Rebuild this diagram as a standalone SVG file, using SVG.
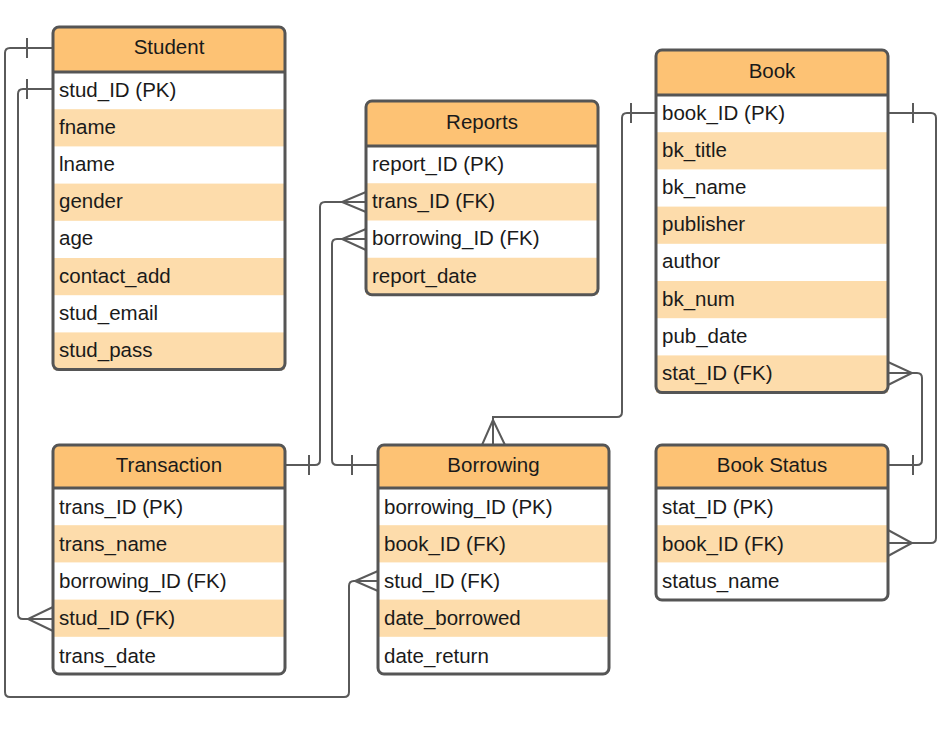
<svg xmlns="http://www.w3.org/2000/svg" width="941" height="735" viewBox="0 0 941 735">
<style>
.t{font-family:"Liberation Sans",Arial,sans-serif;font-size:20.5px;fill:#1a1a1a}
.h{text-anchor:middle}
.hd{fill:#FDC274}
.alt{fill:#FDDCAB}
.box{fill:none;stroke:#555;stroke-width:3}
.sep{stroke:#555;stroke-width:3}
.c{fill:none;stroke:#5a5a5a;stroke-width:2}
</style>
<rect width="941" height="735" fill="#fff"/>
<g id="connectors" class="c">
<path d="M53,48 H10 Q5,48 5,53 V692 Q5,697 10,697 H344 Q349,697 349,692 V586 Q349,581 354,581 H378"/>
<path d="M378,571 L355,581 L378,591"/>
<path d="M27,38 V58"/>
<path d="M53,89 H23 Q18,89 18,94 V614 Q18,619 23,619 H53"/>
<path d="M53,607 L28,619 L53,631"/>
<path d="M27,79 V99"/>
<path d="M285,465 H315 Q320,465 320,460 V207 Q320,202 325,202 H366"/>
<path d="M366,192 L342,202 L366,212"/>
<path d="M309,455 V475"/>
<path d="M378,465 H337 Q332,465 332,460 V244 Q332,239 337,239 H366"/>
<path d="M366,229 L342,239 L366,250"/>
<path d="M352,455 V475"/>
<path d="M493,445 V417 H617 Q622,417 622,412 V118 Q622,113 627,113 H656"/>
<path d="M482,445 L493,420 L505,445"/>
<path d="M631,103 V123"/>
<path d="M888,113 H931 Q936,113 936,118 V538 Q936,543 931,543 H888"/>
<path d="M888,530 L912,543 L888,556"/>
<path d="M913,103 V123"/>
<path d="M888,373 H917 Q922,373 922,378 V460 Q922,465 917,465 H888"/>
<path d="M888,362 L912,373 L888,385"/>
<path d="M913,455 V475"/>
</g>
<g id="student">
<rect x="53" y="27" width="232" height="342.6" rx="6" fill="#fff"/>
<rect class="hd" x="53" y="27" width="232" height="45" rx="6"/>
<rect class="hd" x="53" y="50" width="232" height="22"/>
<rect class="alt" x="53" y="109.2" width="232" height="37.2"/>
<rect class="alt" x="53" y="183.6" width="232" height="37.2"/>
<rect class="alt" x="53" y="258" width="232" height="37.2"/>
<rect class="alt" x="53" y="332.4" width="232" height="37.2"/>
<line class="sep" x1="53" y1="72" x2="285" y2="72"/>
<rect class="box" x="53" y="27" width="232" height="342.6" rx="6"/>
<text class="t h" x="169" y="54">Student</text>
<text class="t" x="59" y="97">stud_ID (PK)</text>
<text class="t" x="59" y="134">fname</text>
<text class="t" x="59" y="171">lname</text>
<text class="t" x="59" y="208">gender</text>
<text class="t" x="59" y="245">age</text>
<text class="t" x="59" y="283">contact_add</text>
<text class="t" x="59" y="320">stud_email</text>
<text class="t" x="59" y="357">stud_pass</text>
</g>
<g id="reports">
<rect x="366" y="101" width="232" height="193.8" rx="6" fill="#fff"/>
<rect class="hd" x="366" y="101" width="232" height="45" rx="6"/>
<rect class="hd" x="366" y="124" width="232" height="22"/>
<rect class="alt" x="366" y="183.25" width="232" height="37.25"/>
<rect class="alt" x="366" y="257.75" width="232" height="37.05"/>
<line class="sep" x1="366" y1="146" x2="598" y2="146"/>
<rect class="box" x="366" y="101" width="232" height="193.8" rx="6"/>
<text class="t h" x="482" y="129">Reports</text>
<text class="t" x="372" y="171">report_ID (PK)</text>
<text class="t" x="372" y="208">trans_ID (FK)</text>
<text class="t" x="372" y="245">borrowing_ID (FK)</text>
<text class="t" x="372" y="283">report_date</text>
</g>
<g id="book">
<rect x="656" y="50" width="232" height="342.6" rx="6" fill="#fff"/>
<rect class="hd" x="656" y="50" width="232" height="45" rx="6"/>
<rect class="hd" x="656" y="73" width="232" height="22"/>
<rect class="alt" x="656" y="132.2" width="232" height="37.2"/>
<rect class="alt" x="656" y="206.6" width="232" height="37.2"/>
<rect class="alt" x="656" y="281" width="232" height="37.2"/>
<rect class="alt" x="656" y="355.4" width="232" height="37.2"/>
<line class="sep" x1="656" y1="95" x2="888" y2="95"/>
<rect class="box" x="656" y="50" width="232" height="342.6" rx="6"/>
<text class="t h" x="772" y="78">Book</text>
<text class="t" x="662" y="120">book_ID (PK)</text>
<text class="t" x="662" y="157">bk_title</text>
<text class="t" x="662" y="194">bk_name</text>
<text class="t" x="662" y="231">publisher</text>
<text class="t" x="662" y="268">author</text>
<text class="t" x="662" y="306">bk_num</text>
<text class="t" x="662" y="343">pub_date</text>
<text class="t" x="662" y="380">stat_ID (FK)</text>
</g>
<g id="transaction">
<rect x="53" y="445" width="232" height="229" rx="6" fill="#fff"/>
<rect class="hd" x="53" y="445" width="232" height="43" rx="6"/>
<rect class="hd" x="53" y="466" width="232" height="22"/>
<rect class="alt" x="53" y="525.2" width="232" height="37.2"/>
<rect class="alt" x="53" y="599.6" width="232" height="37.2"/>
<line class="sep" x1="53" y1="488" x2="285" y2="488"/>
<rect class="box" x="53" y="445" width="232" height="229" rx="6"/>
<text class="t h" x="169" y="472">Transaction</text>
<text class="t" x="59" y="514">trans_ID (PK)</text>
<text class="t" x="59" y="551">trans_name</text>
<text class="t" x="59" y="588">borrowing_ID (FK)</text>
<text class="t" x="59" y="625">stud_ID (FK)</text>
<text class="t" x="59" y="663">trans_date</text>
</g>
<g id="borrowing">
<rect x="378" y="445" width="231" height="229" rx="6" fill="#fff"/>
<rect class="hd" x="378" y="445" width="231" height="43" rx="6"/>
<rect class="hd" x="378" y="466" width="231" height="22"/>
<rect class="alt" x="378" y="525.2" width="231" height="37.2"/>
<rect class="alt" x="378" y="599.6" width="231" height="37.2"/>
<line class="sep" x1="378" y1="488" x2="609" y2="488"/>
<rect class="box" x="378" y="445" width="231" height="229" rx="6"/>
<text class="t h" x="493.5" y="472">Borrowing</text>
<text class="t" x="384" y="514">borrowing_ID (PK)</text>
<text class="t" x="384" y="551">book_ID (FK)</text>
<text class="t" x="384" y="588">stud_ID (FK)</text>
<text class="t" x="384" y="625">date_borrowed</text>
<text class="t" x="384" y="663">date_return</text>
</g>
<g id="book-status">
<rect x="656" y="445" width="232" height="155" rx="6" fill="#fff"/>
<rect class="hd" x="656" y="445" width="232" height="43" rx="6"/>
<rect class="hd" x="656" y="466" width="232" height="22"/>
<rect class="alt" x="656" y="525.2" width="232" height="37.2"/>
<line class="sep" x1="656" y1="488" x2="888" y2="488"/>
<rect class="box" x="656" y="445" width="232" height="155" rx="6"/>
<text class="t h" x="772" y="472">Book Status</text>
<text class="t" x="662" y="514">stat_ID (PK)</text>
<text class="t" x="662" y="551">book_ID (FK)</text>
<text class="t" x="662" y="588">status_name</text>
</g>
</svg>
